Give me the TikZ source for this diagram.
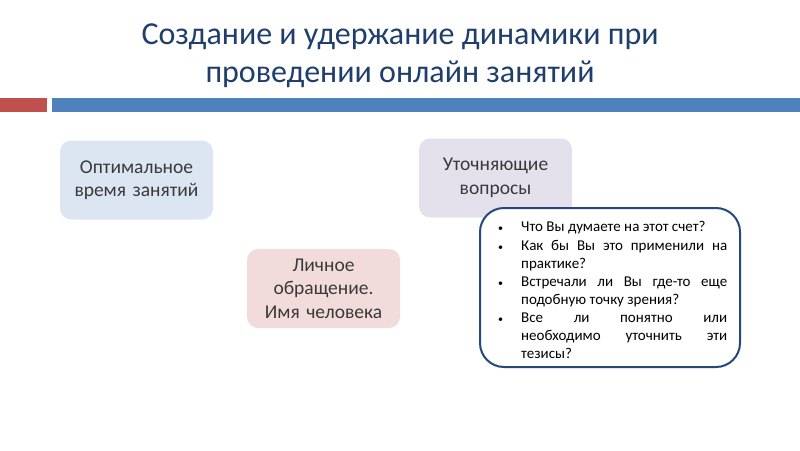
\documentclass[tikz,border=0pt]{standalone}
\usepackage{fontspec}
\setmainfont{Carlito}
\definecolor{titleblue}{HTML}{1F3E6B}
\definecolor{redbar}{HTML}{C0504D}
\definecolor{bluebar}{HTML}{4F81BD}
\definecolor{fillblue}{HTML}{DCE6F2}
\definecolor{fillpink}{HTML}{F2DCDB}
\definecolor{filllav}{HTML}{E4E0EC}
\definecolor{boxtext}{HTML}{3A3A3A}
\definecolor{callborder}{HTML}{24487A}
\newcommand{\bitem}[1]{\par\hangindent=24pt\hangafter=1\noindent\makebox[24pt][l]{\hspace{1pt}\fontsize{10}{10}\selectfont•}#1}
\begin{document}
\begin{tikzpicture}[x=1pt,y=-1pt,
  titlestyle/.style={font=\fontsize{32}{37.5}\selectfont, text=titleblue, align=center, inner sep=0pt},
  softbox/.style={rounded corners=11pt, minimum width=153pt, minimum height=79pt, inner sep=0pt,
     text width=150pt, align=center, text=boxtext, font=\fontsize{19.5}{23.5}\selectfont},
  callout/.style={draw=callborder, line width=2pt, fill=white, rounded corners=24pt}]
\useasboundingbox (0,0) rectangle (800,450);
\node[titlestyle] (title) at (400,55.5) {Создание и удержание динамики при\\проведении онлайн занятий};
\fill[redbar] (0,98) rectangle (47,112);
\fill[bluebar] (52,98) rectangle (800,112);
\node[softbox, fill=fillblue] (opt) at (136.5,180) {Оптимальное\\время занятий};
\node[softbox, fill=fillpink] (lich) at (323.5,288.5) {Личное\\обращение.\\Имя человека};
\node[softbox, fill=filllav] (utoch) at (495.5,178) {Уточняющие\\вопросы};
\draw[callout] (480,208) rectangle (740,367);
\node[anchor=north west, inner sep=0pt, text width=230pt, align=justify, text=black,
  font=\fontsize{15}{18.15}\selectfont] (qs) at (497,213.5) {%
\bitem{Что Вы думаете на этот счет?}
\bitem{Как бы Вы это применили на\linebreak практике?}
\bitem{Встречали ли Вы где-то еще\linebreak подобную точку зрения?}
\bitem{Все ли понятно или\linebreak необходимо уточнить эти\linebreak тезисы?}\par};
\end{tikzpicture}
\end{document}
